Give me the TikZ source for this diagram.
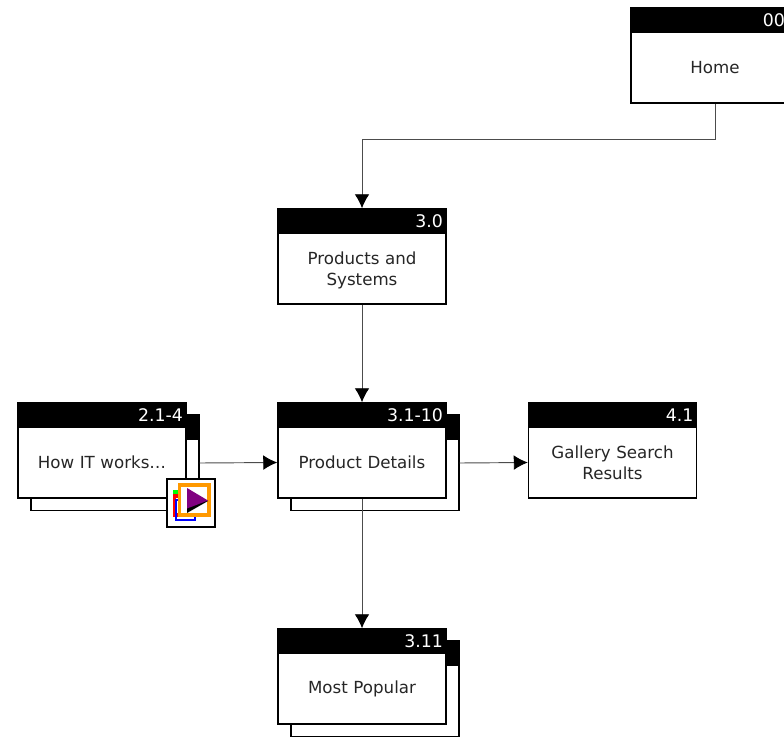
\documentclass[tikz,border=0pt]{standalone}
\usepackage{fontspec}
\setmainfont{DejaVu Sans}
\usetikzlibrary{arrows.meta}
\definecolor{mediaOrange}{RGB}{255,153,0}
\definecolor{mediaPurple}{RGB}{128,0,128}
\tikzset{
  pagebody/.style={draw,fill=white,line width=1.1pt,minimum width=126pt,minimum height=53.5pt,
    inner sep=0pt,text width=122pt,align=center,font=\fontsize{12.5pt}{15.75pt}\selectfont,text=black!85},
  pagehead/.style={fill=black,draw,line width=1.1pt,minimum width=126pt,minimum height=18pt,
    inner ysep=0pt,inner xsep=0pt,text width=121.5pt,align=right,text=white,font=\fontsize{13pt}{14pt}\selectfont},
  pageback/.style={draw,fill=white,line width=1.1pt,minimum width=126pt,minimum height=71.5pt,inner sep=0pt},
  backhead/.style={draw,fill=black,line width=1.1pt,minimum width=126pt,minimum height=18pt,inner sep=0pt},
  link/.style={draw=black!70,line width=.7pt,-{Latex[black,length=10.5pt,width=11pt]}},
}
\begin{document}
\begin{tikzpicture}[x=.75pt,y=-.75pt]
  \useasboundingbox (0,0) rectangle (784,741);
  \clip (0,0) rectangle (784,741);
  % stacked pages behind
  \node[pageback] (howBack) at (115,463) {};
  \node[backhead] (howBackHead) at (115,427) {};
  \node[pageback] (detailsBack) at (375,463) {};
  \node[backhead] (detailsBackHead) at (375,427) {};
  \node[pageback] (popularBack) at (375,689) {};
  \node[backhead] (popularBackHead) at (375,653) {};
  % pages
  \node[pagehead] (homeHead) at (715,20) {000};
  \node[pagebody] (homeBody) at (715,67.5) {Home};
  \node[pagehead] (productsHead) at (362,221) {3.0};
  \node[pagebody] (productsBody) at (362,268.5) {\rule{0pt}{13pt}Products and\\Systems};
  \node[pagebody] (howBody) at (102,462.5) {How IT works\dots};
  \node[pagehead] (howHead) at (102,415) {2.1-4};
  \node[pagebody] (detailsBody) at (362,462.5) {Product Details};
  \node[pagehead] (detailsHead) at (362,415) {3.1-10};
  \node[pagebody] (galleryBody) at (612.5,462.5) {Gallery Search\\Results};
  \node[pagehead] (galleryHead) at (612.5,415) {4.1};
  \node[pagebody] (popularBody) at (362,688.5) {Most Popular};
  \node[pagehead] (popularHead) at (362,641) {3.11};
  % links
  \draw[link] (homeBody.south) -- ++(0,36) -| (productsHead.north);
  \draw[link] (productsBody.south) -- (detailsHead.north);
  \draw[link] (howBack.east) -- (detailsBody.west);
  \draw[link] (detailsBack.east) -- (galleryBody.west);
  \draw[link] (detailsBody.south) -- (popularHead.north);
  % media icon
  \node[draw,fill=white,line width=1.4pt,minimum size=35.5pt,inner sep=0pt] (mediaIcon) at (191,503) {};
  \fill[green] (173,490) rectangle (178,496);
  \draw[red,line width=2.4pt] (174.5,496) rectangle (190,515);
  \draw[blue,line width=1.8pt] (176,500) rectangle (195,520);
  \draw[mediaOrange,fill=white,line width=2.4pt] (179.5,485) rectangle (209,515);
  \fill[black] (187,493) -- (208,501) -- (187,513) -- cycle;
  \fill[mediaPurple] (187,488) -- (208,500.5) -- (187,508.5) -- cycle;
\end{tikzpicture}
\end{document}
